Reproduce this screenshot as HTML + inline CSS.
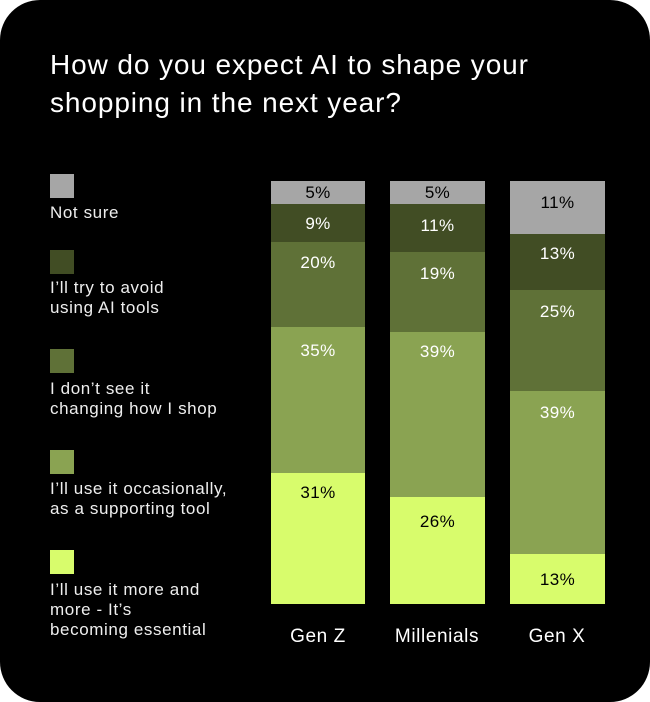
<!DOCTYPE html>
<html><head><style>
html,body{margin:0;padding:0;background:#fff;}
.card{position:absolute;left:0;top:0;width:650px;height:702px;background:#000;border-radius:40px;font-family:"Liberation Sans",sans-serif;color:#fff;overflow:hidden}
.t{position:absolute;left:50px;top:46px;font-size:28px;line-height:38px;letter-spacing:0.9px}
.sq{position:absolute;left:50px;width:24px;height:24px;}
.lt{position:absolute;left:50px;font-size:17px;line-height:20px;color:#eee;letter-spacing:0.6px}
.s{position:absolute;text-align:center;font-size:17px;line-height:20px;letter-spacing:0.4px}
.x{position:absolute;top:626px;font-size:19px;text-align:center;width:120px;letter-spacing:0.6px}
</style></head><body><div class="card">
<div class="t">How do you expect AI to shape your<br>shopping in the next year?</div>
<div class="sq" style="top:174px;background:#a6a6a6"></div>
<div class="lt" style="top:203px">Not sure</div>
<div class="sq" style="top:250px;background:#414d24"></div>
<div class="lt" style="top:278px">I’ll try to avoid<br>using AI tools</div>
<div class="sq" style="top:349px;background:#5f7137"></div>
<div class="lt" style="top:379px">I don’t see it<br>changing how I shop</div>
<div class="sq" style="top:450px;background:#8aa352"></div>
<div class="lt" style="top:479px">I’ll use it occasionally,<br>as a supporting tool</div>
<div class="sq" style="top:550px;background:#d8fc6c"></div>
<div class="lt" style="top:580px">I’ll use it more and<br>more - It’s<br>becoming essential</div>

<div class="s" style="left:271px;width:94px;top:181px;height:23px;background:#a6a6a6;color:#000;line-height:23px">5%</div>
<div class="s" style="left:271px;width:94px;top:204px;height:38px;background:#414d24;padding-top:10px;box-sizing:border-box">9%</div>
<div class="s" style="left:271px;width:94px;top:242px;height:85px;background:#5f7137;padding-top:11px;box-sizing:border-box">20%</div>
<div class="s" style="left:271px;width:94px;top:327px;height:146px;background:#8aa352;padding-top:14px;box-sizing:border-box">35%</div>
<div class="s" style="left:271px;width:94px;top:473px;height:131px;background:#d8fc6c;color:#000;padding-top:10px;box-sizing:border-box">31%</div>

<div class="s" style="left:390px;width:95px;top:181px;height:23px;background:#a6a6a6;color:#000;line-height:23px">5%</div>
<div class="s" style="left:390px;width:95px;top:204px;height:48px;background:#414d24;padding-top:12px;box-sizing:border-box">11%</div>
<div class="s" style="left:390px;width:95px;top:252px;height:80px;background:#5f7137;padding-top:12px;box-sizing:border-box">19%</div>
<div class="s" style="left:390px;width:95px;top:332px;height:165px;background:#8aa352;padding-top:10px;box-sizing:border-box">39%</div>
<div class="s" style="left:390px;width:95px;top:497px;height:107px;background:#d8fc6c;color:#000;padding-top:15px;box-sizing:border-box">26%</div>

<div class="s" style="left:510px;width:95px;top:181px;height:53px;background:#a6a6a6;color:#000;padding-top:12px;box-sizing:border-box">11%</div>
<div class="s" style="left:510px;width:95px;top:234px;height:56px;background:#414d24;padding-top:10px;box-sizing:border-box">13%</div>
<div class="s" style="left:510px;width:95px;top:290px;height:101px;background:#5f7137;padding-top:12px;box-sizing:border-box">25%</div>
<div class="s" style="left:510px;width:95px;top:391px;height:163px;background:#8aa352;padding-top:12px;box-sizing:border-box">39%</div>
<div class="s" style="left:510px;width:95px;top:554px;height:50px;background:#d8fc6c;color:#000;padding-top:16px;box-sizing:border-box">13%</div>

<div class="x" style="left:258px">Gen Z</div>
<div class="x" style="left:377px">Millenials</div>
<div class="x" style="left:497px">Gen X</div>
</div></body></html>
